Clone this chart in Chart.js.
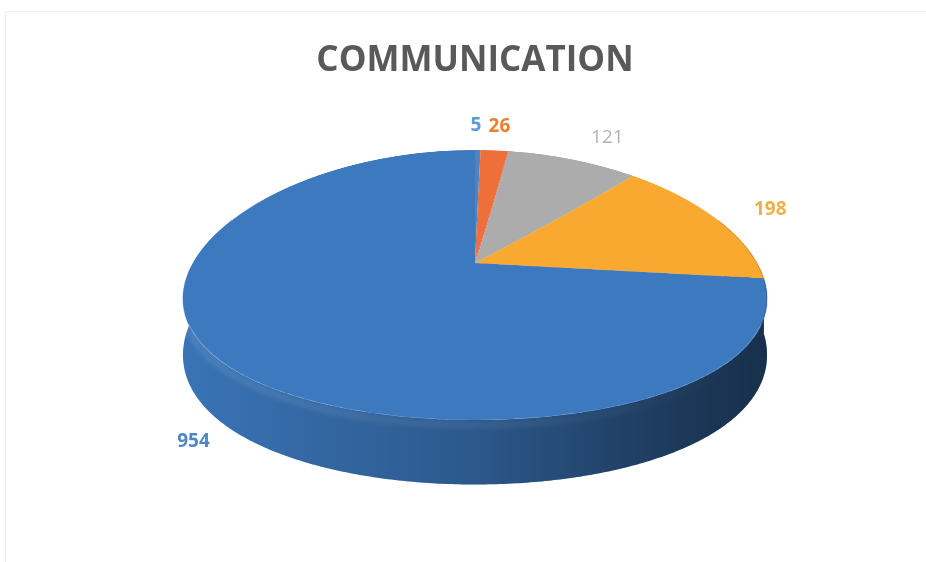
<!DOCTYPE html>
<html>
<head>
<meta charset="utf-8">
<script src="https://cdn.jsdelivr.net/npm/chart.js@4.4.1/dist/chart.umd.min.js"></script>
<style>
  html, body { margin: 0; padding: 0; background: #fff; }
  #wrap { position: relative; width: 926px; height: 562px; overflow: hidden; }
  #frame { position: absolute; left: 5px; top: 11px; width: 930px; height: 560px;
           border-top: 1px solid #efefef; border-left: 1px solid #efefef; }
  canvas { position: absolute; left: 0; top: 0; }
</style>
</head>
<body>
<div id="wrap">
  <div id="frame"></div>
  <canvas id="commChart" width="926" height="562"></canvas>
</div>
<script>
// categories are not printed on the chart, only the counts
const categories = ["Category 1", "Category 2", "Category 3", "Category 4", "Category 5"];
const counts = [5, 26, 121, 198, 954];
const sliceColors = ["#4884c6", "#ef6f3b", "#acacac", "#f9a92f", "#3c79bf"];
const labelColors = ["#5b9bd5", "#ed7d31", "#b3b3b3", "#eeb04a", "#4f87c3"];
const labelWeights = ["bold", "bold", "normal", "bold", "bold"];

// 3d look: tilted disc with some perspective
const VIEW = { y0: 263, a: 282, b: 131.4, kx: 0.26, ky: 0.163, depth: 54 };

function project(x0, nx, u) {
  return {
    x: x0 + VIEW.a * nx / (1 + VIEW.kx * u),
    y: VIEW.y0 - VIEW.b * u / (1 + VIEW.ky * u),
    h: VIEW.depth / (1 + VIEW.ky * u),
  };
}

function sidePath(ctx, a0, a1, x0) {
  const n = Math.max(2, Math.ceil((a1 - a0) / 0.01));
  const top = [];
  for (let j = 0; j <= n; j++) {
    const t = a0 + (a1 - a0) * j / n;
    top.push(project(x0, Math.cos(t), -Math.sin(t)));
  }
  ctx.beginPath();
  top.forEach((p, j) => (j ? ctx.lineTo(p.x, p.y) : ctx.moveTo(p.x, p.y)));
  for (let j = top.length - 1; j >= 0; j--) ctx.lineTo(top[j].x, top[j].y + top[j].h);
  ctx.closePath();
}

const pie3d = {
  id: "pie3d",
  beforeDatasetsDraw(chart) {
    const ctx = chart.ctx;
    const arcs = chart.getDatasetMeta(0).data;
    const cx = arcs[0].x, cy = arcs[0].y, r = arcs[0].outerRadius;
    const x0 = cx;

    // side walls (front part only)
    const shade = ctx.createLinearGradient(x0 - VIEW.a, 0, x0 + VIEW.a, 0);
    shade.addColorStop(0, "rgba(0,0,0,0.05)");
    shade.addColorStop(0.5, "rgba(0,0,0,0.27)");
    shade.addColorStop(0.85, "rgba(0,0,0,0.52)");
    shade.addColorStop(1, "rgba(0,0,0,0.6)");
    arcs.forEach((arc) => {
      const a0 = Math.max(arc.startAngle, -0.35);
      const a1 = Math.min(arc.endAngle, Math.PI + 0.35);
      if (a1 <= a0) return;
      sidePath(ctx, a0, a1, x0);
      ctx.fillStyle = arc.options.backgroundColor;
      ctx.fill();
      ctx.fillStyle = shade;
      ctx.fill();
    });

    // soft rim just under the top edge
    ctx.save();
    ctx.beginPath();
    for (let t = 0.15; t <= Math.PI - 0.05; t += 0.01) {
      const p = project(x0, Math.cos(t), -Math.sin(t));
      t === 0.15 ? ctx.moveTo(p.x, p.y + 5) : ctx.lineTo(p.x, p.y + 5);
    }
    const rim = ctx.createLinearGradient(x0 - VIEW.a, 0, x0 + VIEW.a, 0);
    rim.addColorStop(0, "rgba(255,255,255,0.09)");
    rim.addColorStop(0.6, "rgba(255,255,255,0.05)");
    rim.addColorStop(1, "rgba(255,255,255,0)");
    ctx.strokeStyle = rim;
    ctx.lineWidth = 8;
    ctx.filter = "blur(2px)";
    ctx.stroke();
    ctx.restore();

    // top face: let the arcs draw flat, then tilt row by row
    const off = document.createElement("canvas");
    off.width = chart.canvas.width;
    off.height = chart.canvas.height;
    const octx = off.getContext("2d");
    arcs.forEach((arc) => arc.draw(octx));

    const yTop = Math.floor(VIEW.y0 - VIEW.b / (1 + VIEW.ky));
    const yBot = Math.ceil(VIEW.y0 + VIEW.b / (1 - VIEW.ky));
    for (let y = yTop; y <= yBot; y++) {
      const d = y + 0.5 - VIEW.y0;
      const u = -d / (VIEW.b + d * VIEW.ky);
      if (u > 1 || u < -1) continue;
      const sy = cy - u * r;
      const s = VIEW.a / (r * (1 + VIEW.kx * u));
      ctx.drawImage(off, 0, sy - 0.5, off.width, 1, x0 - cx * s, y, off.width * s, 1);
    }
    return false;
  },
  afterDraw(chart) {
    const ctx = chart.ctx;
    const arcs = chart.getDatasetMeta(0).data;
    const x0 = arcs[0].x;
    ctx.save();
    ctx.textAlign = "center";
    ctx.textBaseline = "middle";
    arcs.forEach((arc, i) => {
      const t = (arc.startAngle + arc.endAngle) / 2;
      const nx = Math.cos(t), u = -Math.sin(t);
      let x, y;
      if (u >= 0) {
        x = x0 + (VIEW.a + 34) * nx - 3 * u * u;
        y = VIEW.y0 - (VIEW.b + 28) * u / (1 + VIEW.ky * u);
      } else {
        x = x0 + (VIEW.a + 95) * nx;
        y = VIEW.y0 - (VIEW.b + 108) * u / (1 + VIEW.ky * u);
      }
      ctx.font = labelWeights[i] + " 19px 'Open Sans'";
      ctx.fillStyle = labelColors[i];
      ctx.fillText(String(counts[i]), x, y);
    });
    ctx.restore();
  },
};

new Chart(document.getElementById("commChart"), {
  type: "pie",
  data: {
    labels: categories,
    datasets: [{
      data: counts,
      backgroundColor: sliceColors,
      borderWidth: 0,
    }],
  },
  options: {
    responsive: false,
    animation: false,
    layout: { padding: { left: 24 } },
    plugins: {
      legend: { display: false },
      tooltip: { enabled: false },
      title: {
        display: true,
        text: "COMMUNICATION",
        color: "#595959",
        font: { family: "'Open Sans'", size: 35, weight: "bold" },
        padding: { top: 40, bottom: 10 },
      },
    },
  },
  plugins: [pie3d],
});
</script>
</body>
</html>
